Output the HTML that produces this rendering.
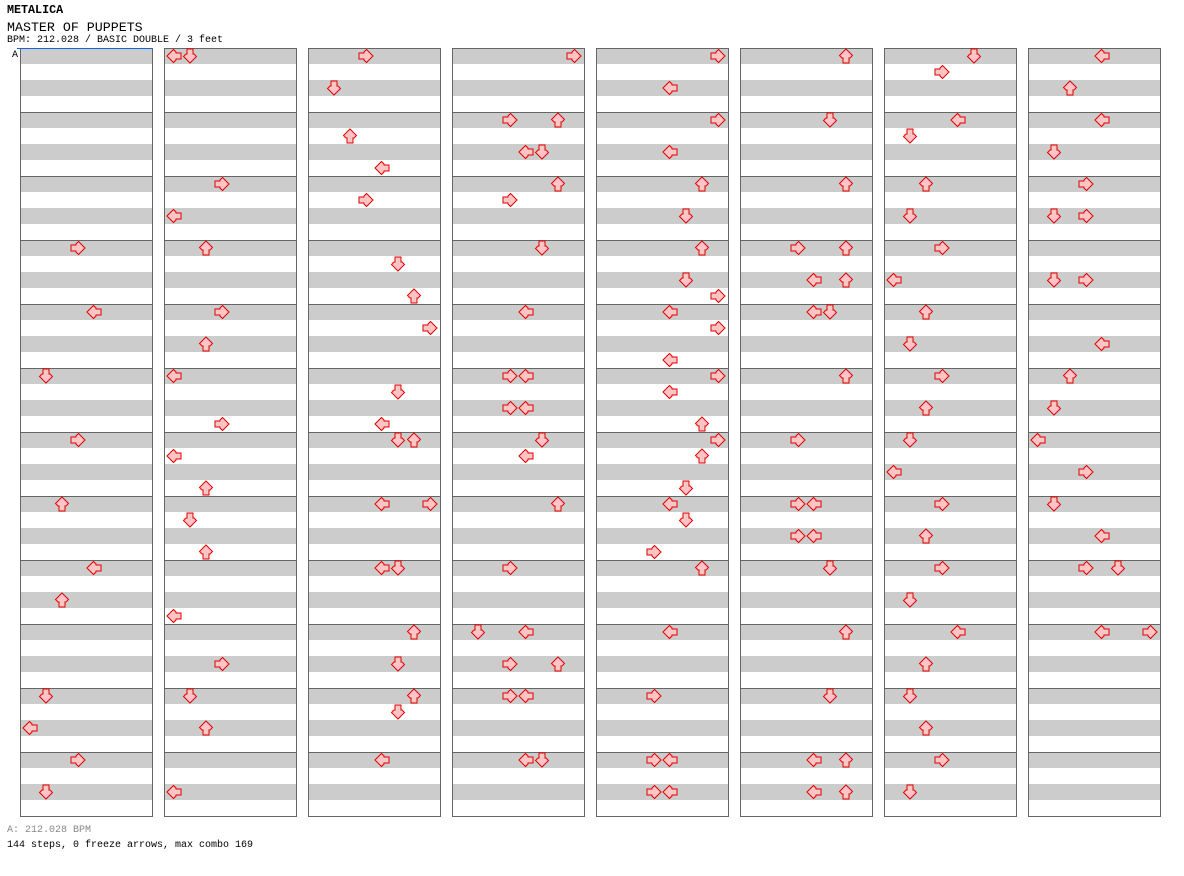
<!DOCTYPE html>
<html><head><meta charset="utf-8">
<style>
body{margin:0;background:#fff;width:1184px;height:876px;overflow:hidden;position:relative;font-family:"Liberation Mono",monospace;}
.t{position:absolute;left:7px;white-space:pre;line-height:1;}
</style></head>
<body>
<div class="t" style="top:5px;font-size:11.7px;font-weight:bold;">METALICA</div>
<div class="t" style="top:21px;font-size:13.3px;">MASTER OF PUPPETS</div>
<div class="t" style="top:36px;font-size:10px;">BPM: 212.028 / BASIC DOUBLE / 3 feet</div>
<svg id="chart" width="1184" height="876" style="position:absolute;left:0;top:0;"></svg>
<div class="t" style="top:826px;font-size:10px;color:#888;">A: 212.028 BPM</div>
<div class="t" style="top:841px;font-size:10px;">144 steps, 0 freeze arrows, max combo 169</div>
<script>
// notes: column index, row index (16px beat rows within column, 48 per column), lane (0-7: L D U R L D U R)
const noteCol = [
0,0,0,0,0,0,0,0,0,0,0,
1,1,1,1,1,1,1,1,1,1,1,1,1,1,1,1,1,1,
2,2,2,2,2,2,2,2,2,2,2,2,2,2,2,2,2,2,2,2,2,
3,3,3,3,3,3,3,3,3,3,3,3,3,3,3,3,3,3,3,3,3,3,3,3,3,
4,4,4,4,4,4,4,4,4,4,4,4,4,4,4,4,4,4,4,4,4,4,4,4,4,4,4,4,
5,5,5,5,5,5,5,5,5,5,5,5,5,5,5,5,5,5,5,5,5,5,
6,6,6,6,6,6,6,6,6,6,6,6,6,6,6,6,6,6,6,6,6,6,6,6,
7,7,7,7,7,7,7,7,7,7,7,7,7,7,7,7,7,7,7,7];
const noteRow = [
12,16,20,24,28,32,34,40,42,44,46,
0,0,8,10,12,16,18,20,23,25,27,29,31,35,38,40,42,46,
0,2,5,7,9,13,15,17,21,23,24,24,28,28,32,32,36,38,40,41,44,
0,4,4,6,6,8,9,12,16,20,20,22,22,24,25,28,32,36,36,38,38,40,40,44,44,
0,2,4,6,8,10,12,14,15,16,17,19,20,21,23,24,25,27,28,29,31,32,36,40,44,44,46,46,
0,4,8,12,12,14,14,16,16,20,24,28,28,30,30,32,36,40,44,44,46,46,
0,1,4,5,8,10,12,14,16,18,20,22,24,26,28,30,32,34,36,38,40,42,44,46,
0,2,4,6,8,10,10,14,14,18,20,22,24,26,28,30,32,32,36,36];
const noteLane = [
3,4,1,3,2,4,2,1,0,3,1,
0,1,3,0,2,3,2,0,3,0,2,1,2,0,3,1,2,0,
3,1,2,4,3,5,6,7,5,4,5,6,4,7,4,5,6,5,6,5,4,
7,3,6,4,5,6,3,5,4,3,4,3,4,5,4,6,3,1,4,3,6,3,4,4,5,
7,4,7,4,6,5,6,5,7,4,7,4,7,4,6,7,6,5,4,5,3,6,4,3,3,4,3,4,
6,5,6,3,6,4,6,4,5,6,3,3,4,3,4,5,6,5,4,6,4,6,
5,3,4,1,2,1,3,0,2,1,3,2,1,0,3,2,3,1,4,2,1,2,3,1,
4,2,4,1,3,1,3,1,3,4,2,1,0,3,1,4,3,5,4,7];

const NS='http://www.w3.org/2000/svg';
const svg=document.getElementById('chart');
const COLS=8, MEAS=12, PX0=20, PSTEP=144, PW=132, TOP=48, MH=64, ROWH=16;
function colX(c){return PX0+c*PSTEP;}
function rowY(r){return TOP+8+r*ROWH;}
function laneX(c,l){return colX(c)+10+16*l;}
function mk(tag,attrs){const e=document.createElementNS(NS,tag);for(const k in attrs)e.setAttribute(k,attrs[k]);return e;}

for(let c=0;c<COLS;c++){
  const g=mk('g',{});
  
  
  for(let m=0;m<MEAS;m++){
    const y0=TOP+m*MH;
    for(let b=0;b<4;b++){
      const s=mk('rect',{x:colX(c),y:y0+b*16,width:PW,height:16,fill:b%2?'#fff':'#cccccc'});
      g.appendChild(s);
    }
    const r=mk('rect',{x:colX(c)+0.5,y:y0+0.5,width:PW,height:MH,fill:'none',stroke:'#666','stroke-width':1});
    
    
    g.appendChild(r);
  }
  svg.appendChild(g);
}
const bl=mk('line',{x1:17,y1:48.5,x2:153,y2:48.5,stroke:'#1565d8','stroke-width':1});


svg.appendChild(bl);
const bt=mk('text',{x:12,y:57,'font-size':10,'font-family':'Liberation Mono, monospace',fill:'#000'});
bt.textContent='A';


svg.appendChild(bt);

const rot=[0,-90,90,180];
for(let i=0;i<noteCol.length;i++){
  const cx=laneX(noteCol[i],noteLane[i]), cy=rowY(noteRow[i]);
  const p=mk('path',{d:'M-7,0 L-0.5,-6.5 L2,-4 L2,-3 L7,-3 L7,3 L2,3 L2,4 L-0.5,6.5 Z',fill:'#ffc4c4',stroke:'#e00000','stroke-width':1,
    transform:'translate('+cx+','+cy+') rotate('+rot[noteLane[i]%4]+')'});
  
  
  svg.appendChild(p);
}
</script>
</body></html>
